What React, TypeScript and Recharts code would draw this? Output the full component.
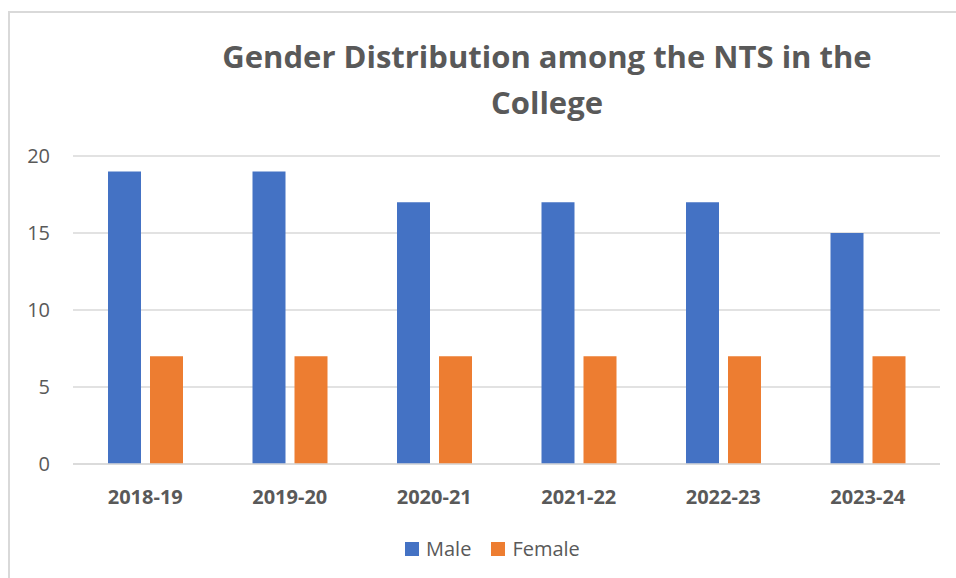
import { BarChart, Bar, XAxis, YAxis, CartesianGrid } from "recharts";

// Academic years on the x axis
const years = ["2018-19", "2019-20", "2020-21", "2021-22", "2022-23", "2023-24"];
// Head counts per year
const maleCounts = [19, 19, 17, 17, 17, 15];
const femaleCounts = [7, 7, 7, 7, 7, 7];
const yTicks = [0, 5, 10, 15, 20];

const series = [
  { key: "Male", color: "#4472C4" },
  { key: "Female", color: "#ED7D31" },
];

const data = years.map((year, i) => ({
  year,
  Male: maleCounts[i],
  Female: femaleCounts[i],
}));

const TEXT_GRAY = "#595959";
const FONT = "'Open Sans', 'Liberation Sans', sans-serif";

export default function App() {
  return (
    <div
      style={{
        position: "absolute",
        left: 0,
        top: 0,
        width: 956,
        height: 578,
        overflow: "hidden",
        background: "#fff",
        fontFamily: FONT,
      }}
    >
      {/* chart frame, runs past the right and bottom edges */}
      <div
        style={{
          position: "absolute",
          left: 8,
          top: 11,
          width: 1100,
          height: 700,
          border: "2px solid #d9d9d9",
        }}
      />
      <div
        style={{
          position: "absolute",
          left: 147,
          width: 800,
          top: 33,
          textAlign: "center",
          color: TEXT_GRAY,
          fontWeight: 700,
          fontSize: 31,
          lineHeight: "46px",
        }}
      >
        Gender Distribution among the NTS in the
        <br />
        College
      </div>
      <div style={{ position: "absolute", left: 0, top: 0 }}>
        <BarChart
          width={956}
          height={578}
          data={data}
          margin={{ top: 156, right: 16, bottom: 84, left: 0 }}
          barSize={33}
          barGap={9}
        >
          <CartesianGrid vertical={false} stroke="#d9d9d9" strokeWidth={1.5} />
          <XAxis
            dataKey="year"
            height={30}
            axisLine={{ stroke: "#d9d9d9", strokeWidth: 1.5 }}
            tickLine={false}
            tickSize={0}
            tickMargin={26}
            tick={{ fill: TEXT_GRAY, fontSize: 20, fontWeight: 700, fontFamily: FONT }}
          />
          <YAxis
            width={73}
            domain={[0, 20]}
            ticks={yTicks}
            axisLine={false}
            tickLine={false}
            tickSize={0}
            tickMargin={23}
            tick={{ fill: TEXT_GRAY, fontSize: 20, fontFamily: FONT }}
          />
          {series.map((s) => (
            <Bar key={s.key} dataKey={s.key} fill={s.color} isAnimationActive={false} />
          ))}
        </BarChart>
      </div>
      {/* legend */}
      <div
        style={{
          position: "absolute",
          left: 405,
          top: 535,
          display: "flex",
          alignItems: "center",
          color: TEXT_GRAY,
          fontSize: 20,
          lineHeight: "28px",
        }}
      >
        {series.map((s) => (
          <div key={s.key} style={{ display: "flex", alignItems: "center", marginRight: 20 }}>
            <span style={{ width: 14, height: 14, background: s.color, marginRight: 7 }} />
            <span>{s.key}</span>
          </div>
        ))}
      </div>
    </div>
  );
}
